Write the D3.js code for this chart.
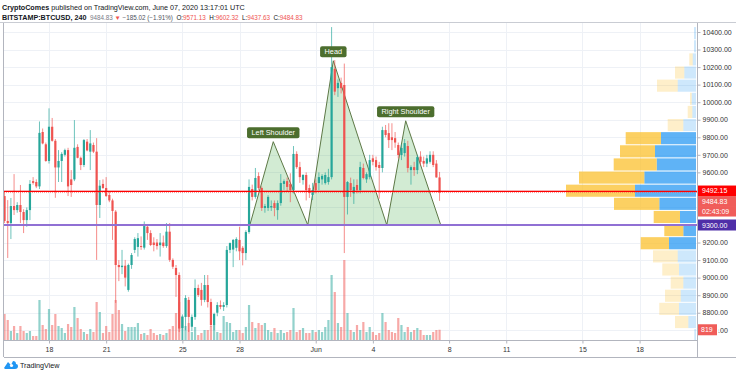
<!DOCTYPE html>
<html><head><meta charset="utf-8">
<script src="https://cdn.jsdelivr.net/npm/d3@7"></script>
<style>
body{margin:0;background:#fff;}
svg{display:block;font-family:"Liberation Sans",Arial,sans-serif;}
</style>
</head><body>
<svg id="c" width="736" height="375"></svg>
<script>
// ---------------- DATA ----------------
const barStart = "2020-05-15T16:00:00Z";   // first 4h bar shown
const barHours = 4;
const opens = [9465,9323,9311,9408,9385,9414,9374,9328,9385,9550,9545,9520,9830,9760,9665,9860,9780,9628,9665,9700,
9727,9560,9560,9745,9683,9642,9775,9718,9756,9718,9414,9534,9511,9471,9440,9376,9072,9060,9068,8930,
9072,9158,9175,9180,9171,9290,9254,9200,9200,9185,9200,9180,9262,9101,9055,9015,8713,8776,8873,8720,
8776,8941,8930,8873,8958,8861,8730,8800,8844,8833,8844,9158,9160,9170,9215,9170,9140,9260,9505,9460,
9579,9511,9397,9397,9400,9425,9385,9425,9534,9550,9534,9499,9705,9630,9556,9585,9511,9471,9539,9539,
9560,9539,9545,9573,10190,10080,10110,10098,9460,9539,9480,9528,9499,9625,9560,9573,9680,9670,9642,9625,
9841,9824,9800,9795,9756,9699,9710,9750,9613,9630,9613,9690,9665,9650,9660,9700,9650,9571.13];
const highs = [9490,9442,9454,9590,9430,9528,9390,9400,9556,9573,9560,9890,9850,9770,9965,9910,9790,9727,9715,9735,
9740,9613,9898,9760,9690,9790,9790,9841,9770,9795,9556,9560,9573,9490,9450,9385,9100,9158,9101,9080,
9140,9230,9254,9235,9320,9295,9270,9230,9220,9254,9240,9311,9311,9110,9072,9030,8790,8900,8890,8790,
8990,8960,8970,9015,9015,8880,8800,8860,8870,8860,9180,9200,9220,9230,9290,9180,9270,9560,9530,9625,
9600,9520,9420,9470,9440,9440,9440,9590,9560,9570,9595,9750,9720,9660,9590,9600,9530,9540,9560,9600,
9590,9600,9620,10428,10240,10130,10140,10220,9550,9570,9560,9560,9660,9650,9600,9700,9700,9690,9660,9860,
9870,9880,9880,9830,9770,9760,9790,9780,9640,9660,9700,9720,9690,9700,9720,9720,9670,9602.32];
const lows = [9311,9112,9220,9357,9370,9311,9254,9290,9328,9530,9510,9505,9760,9660,9650,9775,9455,9545,9545,9690,
9465,9460,9550,9680,9613,9630,9720,9613,9710,9101,9340,9505,9460,9430,9215,8856,8980,9020,8950,8920,
9050,9140,9120,9158,9160,9215,9180,9150,9160,9120,9170,9170,9090,9050,8890,8690,8632,8700,8690,8695,
8760,8890,8840,8860,8830,8720,8700,8780,8820,8810,8830,9140,9060,9150,9100,9070,9100,9250,9440,9450,
9500,9380,9370,9380,9380,9350,9330,9410,9500,9490,9430,9480,9620,9540,9530,9440,9454,9442,9480,9499,
9530,9530,9530,9560,10040,10030,10050,9140,9360,9460,9420,9480,9480,9560,9540,9560,9640,9610,9450,9600,
9800,9739,9727,9740,9680,9670,9690,9600,9530,9580,9590,9640,9630,9630,9650,9630,9570,9437.63];
const closes = [9323,9311,9408,9385,9414,9374,9328,9385,9534,9540,9520,9825,9765,9665,9860,9780,9628,9665,9705,9727,
9520,9528,9740,9683,9642,9784,9725,9765,9718,9414,9524,9511,9465,9440,9380,9072,9060,9068,9000,9072,
9129,9220,9225,9176,9294,9254,9186,9186,9180,9200,9180,9262,9101,9062,9015,8710,8776,8884,8776,8776,
8941,8901,8873,8958,8861,8730,8793,8844,8833,8844,9158,9197,9215,9220,9150,9140,9260,9517,9460,9568,
9511,9397,9408,9460,9408,9397,9425,9539,9550,9517,9499,9705,9630,9573,9585,9499,9482,9499,9499,9573,
9580,9585,9573,10200,10060,10110,10080,9460,9545,9499,9517,9499,9630,9568,9590,9670,9660,9630,9625,9841,
9813,9784,9784,9770,9699,9739,9767,9625,9630,9613,9687,9660,9650,9680,9700,9642,9571.13,9484.83];
const volumes = [2080,1600,720,1120,560,1120,720,560,720,320,320,3200,1200,880,2480,1200,2080,1120,960,560,
1280,1040,2640,1760,880,640,480,880,640,3040,2240,560,1120,640,2080,3200,2400,1280,720,1040,
1040,1040,1360,480,560,400,880,560,400,480,400,560,880,1120,2160,3040,1920,1120,1360,640,
1040,400,560,800,800,1120,1200,640,560,1920,1440,1360,640,800,800,560,1040,2800,1440,960,
1360,1200,1360,800,640,960,560,800,560,640,800,2560,640,800,960,560,560,800,640,800,
640,1040,1600,5200,3840,1360,1040,6400,2160,800,640,1200,800,1440,640,1040,640,400,560,2160,
1440,800,640,560,1760,1200,640,1040,640,800,960,800,400,400,400,640,800,819];

const dayTickDates = ["2020-05-18","2020-05-21","2020-05-25","2020-05-28","2020-06-01","2020-06-04","2020-06-08","2020-06-11","2020-06-15","2020-06-18"];
const dayTickLabels = ["18","21","25","28","Jun","4","8","11","15","18"];
const priceTicks = [8700,8800,8900,9000,9100,9200,9300,9400,9500,9600,9700,9800,9900,10000,10100,10200,10300,10400];
// labels hidden behind the price boxes are empty; 8700 is drawn separately (behind the volume box)
const priceTickLabels = ["","8800.00","8900.00","9000.00","9100.00","9200.00","","","","9600.00","9700.00","9800.00","9900.00","10000.00","10100.00","10200.00","10300.00","10400.00"];
const hiddenTickLabel = "8700.00";

// Visible-range volume profile, 24 rows from low to high (up = blue, down = yellow)
const vpUp   = [1.7,7.7,17,15.3,12.7,17,18.3,27,12.7,16,36.7,61,51.7,39.3,41,35,12.7,3.7,4.3,18.3,11.7,3.3,2,2];
const vpDown = [0,13.3,19.7,15.7,12.6,16.7,24.7,28.3,19,26.3,45.3,69,65.3,43,35,35.3,15.6,4.6,1.7,20.7,9.3,3.4,0,0];
const valueArea = [9155, 9829];

// Drawn lines and pattern
const hLineRed = 9492.15;
const hLinePurple = 9300;
const lastPrice = 9484.83;
const countdown = "02:43:09";
const lastVolumeLabel = "819";
const patterns = [
  {label:"Left Shoulder",  pts:[["2020-05-28T13:00Z",9300],["2020-05-29T18:30Z",9775],["2020-05-31T14:00Z",9300]]},
  {label:"Head",           pts:[["2020-05-31T14:00Z",9300],["2020-06-01T22:10Z",10236],["2020-06-04T17:30Z",9300]]},
  {label:"Right Shoulder", pts:[["2020-06-04T17:30Z",9300],["2020-06-05T17:20Z",9894],["2020-06-07T13:30Z",9300]]}
];
const headerLine1 = [["CryptoComes","b","#131722",7.2],[" published on TradingView.com, June 07, 2020 13:17:01 UTC","n","#131722",7.2]];
const headerLine2 = [["BITSTAMP:BTCUSD, 240","b","#131722",7.2],["  9484.83 ","n","#787b86",6.3],["▼","n","#ef5350",6.3],[" −185.02 (−1.91%)  ","n","#50535e",6.3],
  ["O:","n","#131722",6.3],["9571.13","n","#ef5350",6.3],["  H:","n","#131722",6.3],["9602.32","n","#ef5350",6.3],["  L:","n","#131722",6.3],["9437.63","n","#ef5350",6.3],["  C:","n","#131722",6.3],["9484.83","n","#ef5350",6.3]];

// ---------------- LAYOUT ----------------
const L = 4, R = 697, T = 23, B = 340, AX_B = 357, W = 736;
const UP = "#26a69a", DN = "#ef5350";
const svg = d3.select("#c");

const x = d3.scaleUtc()
  .domain([new Date("2020-05-18T00:00:00Z"), new Date("2020-06-18T00:00:00Z")])
  .range([49, 639.6]);
const y = d3.scaleLinear().domain([9300, 10400]).range([225, 32]);
const yVol = d3.scaleLinear().domain([0, 6400]).range([B, 260]);

const t0 = +new Date(barStart);
const bars = opens.map((o, i) => ({
  t: new Date(t0 + i * barHours * 3600e3), o, h: highs[i], l: lows[i], c: closes[i], v: volumes[i]
}));

const defs = svg.append("defs");
defs.append("clipPath").attr("id","plot")
  .append("rect").attr("x",L).attr("y",T).attr("width",R-L).attr("height",B-T);

// header
function header(parts, yy){
  const t = svg.append("text").attr("x",2).attr("y",yy).attr("xml:space","preserve").style("white-space","pre");
  parts.forEach(p => t.append("tspan").text(p[0]).attr("fill",p[2]).attr("font-size",p[3])
    .attr("font-weight",p[1]==="b"?"bold":"normal"));
}
header(headerLine1, 9.5);
header(headerLine2, 19.5);

// grid
const g = svg.append("g");
g.selectAll(".hg").data(priceTicks).join("line")
  .attr("x1",L).attr("x2",R).attr("y1",d=>Math.round(y(d))+0.5).attr("y2",d=>Math.round(y(d))+0.5)
  .attr("stroke","#eef1f6").attr("stroke-width",1);
g.selectAll(".vg").data(dayTickDates).join("line")
  .attr("x1",d=>Math.round(x(new Date(d+"T00:00:00Z")))+0.5).attr("x2",d=>Math.round(x(new Date(d+"T00:00:00Z")))+0.5)
  .attr("y1",T).attr("y2",B).attr("stroke","#eef1f6");

const plot = svg.append("g").attr("clip-path","url(#plot)");

// volume profile
const vLow = d3.min(lows), vHigh = d3.max(highs), rows = vpUp.length;
const rowH = (vHigh - vLow) / rows;
const vpMax = d3.max(vpUp.map((u,i)=>u+vpDown[i]));
const vpW = d3.scaleLinear().domain([0, vpMax]).range([0, 130]);
const vpRight = R - 1;
const vpg = plot.append("g");
vpUp.forEach((u, i) => {
  const p0 = vLow + i*rowH, p1 = p0 + rowH, mid = (p0+p1)/2;
  const inVA = mid >= valueArea[0] && mid <= valueArea[1];
  const yt = y(p1), hh = y(p0) - y(p1) - 1;
  const wu = vpW(u), wd = vpW(vpDown[i]);
  vpg.append("rect").attr("x", vpRight - wu).attr("y", yt).attr("width", wu).attr("height", hh)
    .attr("fill", inVA ? "rgba(33,150,243,0.72)" : "rgba(33,150,243,0.22)");
  vpg.append("rect").attr("x", vpRight - wu - wd).attr("y", yt).attr("width", wd).attr("height", hh)
    .attr("fill", inVA ? "rgba(251,192,45,0.75)" : "rgba(251,192,45,0.25)");
});

// volume bars
const bw = 2.2;
plot.selectAll(".vol").data(bars).join("rect")
  .attr("x", d => x(d.t) - bw/2).attr("y", d => yVol(d.v)).attr("width", bw).attr("height", d => B - yVol(d.v))
  .attr("fill", d => d.c >= d.o ? "rgba(38,166,154,0.5)" : "rgba(239,83,80,0.5)");

// patterns (triangles)
patterns.forEach(p => {
  const pts = p.pts.map(q => [x(new Date(q[0])), y(q[1])]);
  plot.append("path").attr("d", "M" + pts.map(q=>q.join(",")).join("L") + "Z")
    .attr("fill","rgba(76,175,80,0.25)").attr("stroke","#5d7846").attr("stroke-width",1);
});

// candles
const cg = plot.append("g");
cg.selectAll(".wick").data(bars).join("line")
  .attr("x1", d => x(d.t)).attr("x2", d => x(d.t)).attr("y1", d => y(d.h)).attr("y2", d => y(d.l))
  .attr("stroke", d => d.c >= d.o ? UP : DN).attr("stroke-width", 0.9).attr("stroke-opacity",0.75);
cg.selectAll(".body").data(bars).join("rect")
  .attr("x", d => x(d.t) - bw/2).attr("width", bw)
  .attr("y", d => y(Math.max(d.o, d.c))).attr("height", d => Math.max(1, Math.abs(y(d.o) - y(d.c))))
  .attr("fill", d => d.c >= d.o ? UP : DN);

// horizontal lines
plot.append("line").attr("x1",L).attr("x2",R).attr("y1",y(lastPrice)).attr("y2",y(lastPrice))
  .attr("stroke","#ef5350").attr("stroke-opacity",0.6).attr("stroke-dasharray","1,1");
plot.append("line").attr("x1",L).attr("x2",R).attr("y1",y(hLineRed)).attr("y2",y(hLineRed))
  .attr("stroke","#ff0000").attr("stroke-width",1.3);
plot.append("line").attr("x1",L).attr("x2",R).attr("y1",y(hLinePurple)).attr("y2",y(hLinePurple))
  .attr("stroke","#9070d4").attr("stroke-width",2);

// pattern labels
patterns.forEach(p => {
  const ax = x(new Date(p.pts[1][0])), ay = y(p.pts[1][1]);
  const lg = svg.append("g");
  const txt = lg.append("text").attr("x", ax).attr("y", ay - 6.3).attr("text-anchor","middle")
    .attr("font-size",7.3).attr("fill","#fff").text(p.label);
  const w = txt.node().getComputedTextLength() + 9;
  lg.insert("rect","text").attr("x", ax - w/2).attr("y", ay - 14.5).attr("width", w).attr("height", 11)
    .attr("rx",2).attr("fill","#4c6e2e");
});

// frame
const fr = svg.append("g").attr("stroke","#b2b5be").attr("stroke-width",1).attr("fill","none");
fr.append("line").attr("x1",0).attr("x2",W).attr("y1",T-0.5).attr("y2",T-0.5).attr("stroke","#c9ccd3");
fr.append("line").attr("x1",L-0.5).attr("x2",L-0.5).attr("y1",T).attr("y2",AX_B);
fr.append("line").attr("x1",R+0.5).attr("x2",R+0.5).attr("y1",T).attr("y2",AX_B);
fr.append("line").attr("x1",L).attr("x2",R).attr("y1",B+0.5).attr("y2",B+0.5);
fr.append("line").attr("x1",L).attr("x2",W).attr("y1",AX_B+0.5).attr("y2",AX_B+0.5);

// x axis
const xa = svg.append("g").attr("transform",`translate(0,${B+0.5})`)
  .call(d3.axisBottom(x).tickValues(dayTickDates.map(d=>new Date(d+"T00:00:00Z")))
    .tickFormat((d,i)=>dayTickLabels[i]).tickSize(3).tickPadding(4));
xa.select(".domain").remove();
xa.selectAll("line").attr("stroke","#b2b5be");
xa.selectAll("text").attr("font-size",7).attr("fill","#333").attr("font-family","Liberation Sans, Arial, sans-serif");

// y axis
const ya = svg.append("g").attr("transform",`translate(${R+0.5},0)`)
  .call(d3.axisRight(y).tickValues(priceTicks).tickFormat((d,i)=>priceTickLabels[i]).tickSize(3).tickPadding(2));
ya.select(".domain").remove();
ya.selectAll("line").attr("stroke","#b2b5be");
ya.selectAll("text").attr("font-size",7).attr("fill","#333").attr("font-family","Liberation Sans, Arial, sans-serif");

// price labels on axis
function axLabel(cy, txt, fill, h){
  h = h || 10.5;
  svg.append("rect").attr("x",R+1).attr("y",cy-h/2).attr("width",W-R-1).attr("height",h).attr("fill",fill);
  svg.append("text").attr("x",R+5).attr("y",cy+2.5).attr("font-size",7).attr("fill","#fff").text(txt);
}
const yRed = y(hLineRed) - 0.5;
axLabel(yRed, d3.format(".2f")(hLineRed), "#ff0000");
axLabel(yRed + 10.5, d3.format(".2f")(lastPrice), "#f05d5a");
axLabel(yRed + 20.5, countdown, "#f05d5a");
axLabel(y(hLinePurple), d3.format(".2f")(hLinePurple), "#4f2fa8", 11);

// 8700 label, partly behind the last-volume box (only its tail shows, as in the reference)
const y87 = y(priceTicks[0]);
defs.append("clipPath").attr("id","tailclip").append("rect")
  .attr("x",R+21).attr("y",y87-8).attr("width",W-R-21).attr("height",16);
svg.append("text").attr("x",R+5.5).attr("y",y87+2.5).attr("font-size",7).attr("fill","#333")
  .attr("clip-path","url(#tailclip)").text(hiddenTickLabel);

// last volume label
const yv = yVol(volumes[volumes.length-1]);
svg.append("rect").attr("x",R+1).attr("y",yv-5.5).attr("width",19).attr("height",11).attr("fill","#f05d5a");
svg.append("text").attr("x",R+4).attr("y",yv+2.5).attr("font-size",7).attr("fill","#fff").text(lastVolumeLabel);

// TradingView logo
const lg = svg.append("g").attr("transform","translate(4,360)");
lg.append("path").attr("d","M0,8 L4,2 L7,5 L9,1 Q12,1 12,4 Q14,4 14,6 Q14,9 11,9 L1,9 Z").attr("fill","#2196f3");
lg.append("circle").attr("cx",7.5).attr("cy",5.5).attr("r",1.6).attr("fill","#fff");
svg.append("text").attr("x",20).attr("y",368).attr("font-size",7.2).attr("fill","#131722").text("TradingView");
</script>
</body></html>
